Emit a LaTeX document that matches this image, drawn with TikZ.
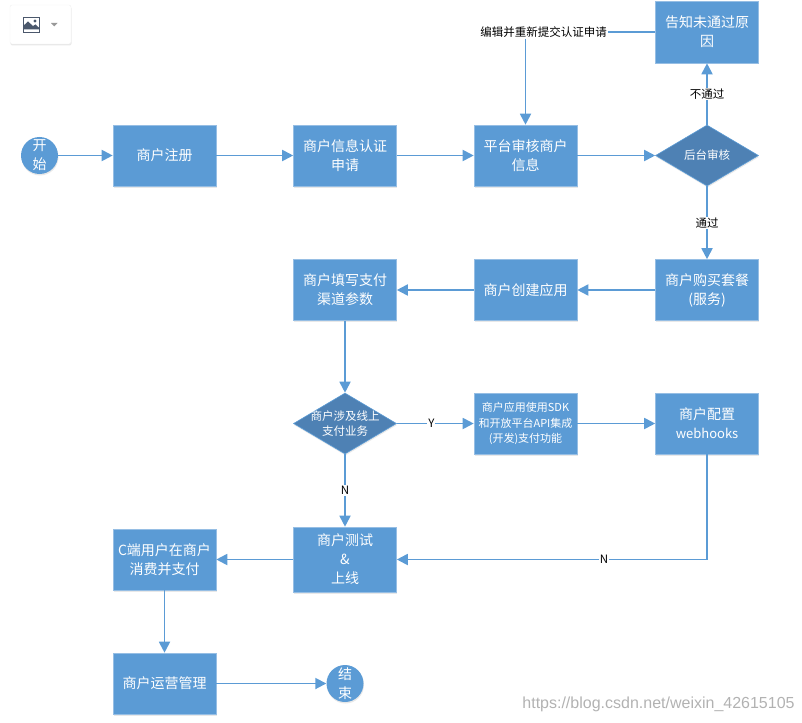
\documentclass[tikz,border=0pt]{standalone}
\usepackage{fontspec}
\setmainfont{Noto Sans CJK SC}
\newfontfamily\markfont{Liberation Sans}
\usepackage{tikz}
\usetikzlibrary{arrows.meta,shapes.geometric,positioning,shadows}
\definecolor{flowblue}{RGB}{91,155,213}
\definecolor{flowedge}{RGB}{150,190,228}
\definecolor{flowdark}{RGB}{78,129,180}
\definecolor{iconslate}{RGB}{75,88,108}
\tikzstyle{softshadow} = [drop shadow={shadow xshift=0.5pt, shadow yshift=-1.5pt, opacity=0.18}]
\tikzstyle{arrow} = [line width=1.8pt, draw=flowblue, -{Triangle[length=11pt,width=11pt]}]
\tikzstyle{line} = [line width=1.8pt, draw=flowblue]
\tikzstyle{flowbox} = [rectangle, minimum width=103pt, minimum height=61pt, inner sep=2pt, align=center, font=\fontsize{14}{19}\selectfont, text=white, fill=flowblue, draw=flowedge, line width=0.6pt, softshadow]
\tikzstyle{choice} = [diamond, minimum width=103pt, minimum height=61pt, inner sep=-12pt, align=center, text=white, fill=flowdark, draw=flowblue, line width=0.6pt, softshadow, font=\fontsize{11.5}{15.5}\selectfont]
\tikzstyle{terminal} = [circle, minimum size=37pt, inner sep=-2pt, align=center, font=\fontsize{14}{19}\selectfont, text=white, fill=flowblue, softshadow]
\tikzstyle{edgelabel} = [font=\fontsize{11.5}{13}\selectfont, text=black, fill=white, inner sep=1pt]

\begin{document}
\begin{tikzpicture}[x=1pt, y=-1pt]
\useasboundingbox (0,0) rectangle (802,722);

% Toolbar in the corner
\node (toolbar) at (40.5,24.5) [rectangle, rounded corners=2pt, minimum width=61pt, minimum height=39pt, fill=white, draw=black!6, softshadow] {};
\fill[iconslate] (23,17) rectangle (40,33);
\fill[white] (24.2,18.2) rectangle (38.8,31.8);
\fill[iconslate] (24.2,29.5) -- (24.2,25) -- (28,21.5) -- (33,26) -- (35.5,24.5) -- (38.8,27.5) -- (38.8,29.5) -- cycle;
\fill[iconslate] (35,21) circle (1.6);
\fill[gray!80] (51,23) -- (57.5,23) -- (54.25,26.5) -- cycle;

% First row
\node (start) at (39.5,155.5) [terminal] {开\\始};
\node (regist) [flowbox, right of=start, node distance=125pt] {商户注册};
\node (auth) [flowbox, right of=regist, node distance=180.5pt] {商户信息认证\\申请};
\node (review) [flowbox, right of=auth, node distance=180.5pt] {平台审核商户\\信息};
\node (backend) [choice, right of=review, node distance=181.5pt] {后台审核};
\node (reason) [flowbox, above of=backend, node distance=123.5pt, minimum height=62pt] {告知未通过原\\因};
\node (edit) at (543.5,32) [edgelabel] {编辑并重新提交认证申请};

% Second row
\node (buy) [flowbox, below of=backend, node distance=134.5pt] {商户购买套餐\\(服务)};
\node (create) [flowbox, left of=buy, node distance=181.5pt] {商户创建应用};
\node (fill) [flowbox, left of=create, node distance=180.5pt] {商户填写支付\\渠道参数};

% Third row
\node (online) [choice, below of=fill, node distance=133.5pt] {商户涉及线上\\支付业务};
\node (sdk) [flowbox, right of=online, node distance=180.5pt, font=\fontsize{11}{15.5}\selectfont] {商户应用使用SDK\\和开放平台API集成\\(开发)支付功能};
\node (hook) [flowbox, right of=sdk, node distance=181.5pt] {商户配置\\{\fontsize{13}{19}\selectfont webhooks}};

% Bottom rows
\node (test) [flowbox, below of=online, node distance=136pt, minimum height=65pt] {商户测试\\\&\\上线};
\node (cpay) [flowbox, left of=test, node distance=180.5pt] {C端用户在商户\\消费并支付};
\node (ops) [flowbox, below of=cpay, node distance=124pt] {商户运营管理};
\node (finish) [terminal, right of=ops, node distance=180.5pt] {结\\束};

% Watermark
\node (mark) at (658.5,704) [font=\markfont\fontsize{16}{16}\selectfont, text=black!30] {https://blog.csdn.net/weixin\_42615105};

% Connectors
\draw[arrow] (start) -- (regist);
\draw[arrow] (regist) -- (auth);
\draw[arrow] (auth) -- (review);
\draw[arrow] (review) -- (backend);
\draw[arrow] (backend) -- node[edgelabel] {不通过} (reason);
\draw[line] (reason) -- (edit);
\draw[arrow] (review |- edit.south) -- (review);
\draw[arrow] (backend) -- node[edgelabel] {通过} (buy);
\draw[arrow] (buy) -- (create);
\draw[arrow] (create) -- (fill);
\draw[arrow] (fill) -- (online);
\draw[arrow] (online) -- node[edgelabel, pos=0.45] {Y} (sdk);
\draw[arrow] (sdk) -- (hook);
\draw[arrow] (online) -- node[edgelabel, pos=0.5] {N} (test);
\draw[arrow] (hook) |- node[edgelabel, pos=0.666] {N} (test);
\draw[arrow] (test) -- (cpay);
\draw[arrow] (cpay) -- (ops);
\draw[arrow] (ops) -- (finish);
\end{tikzpicture}
\end{document}
